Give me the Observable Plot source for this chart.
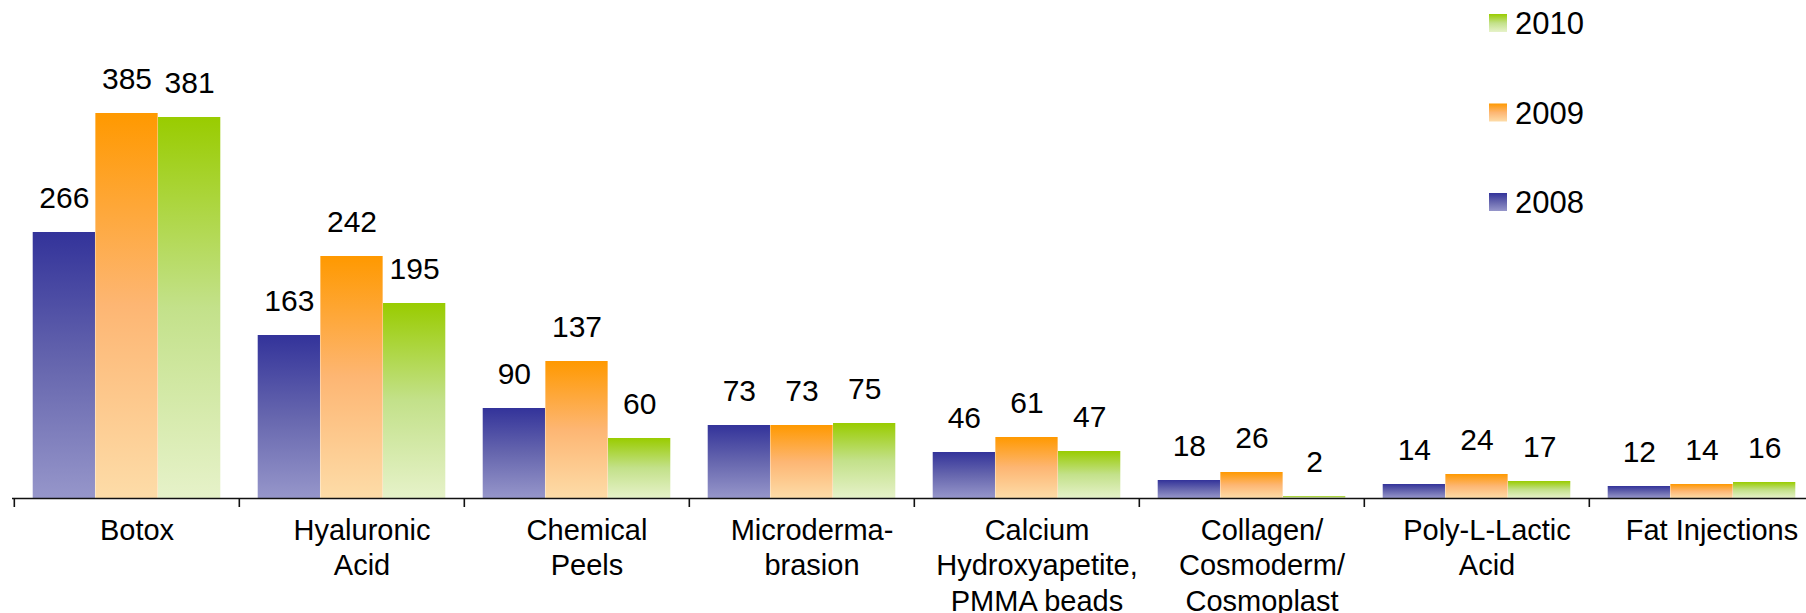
<!DOCTYPE html>
<html><head><meta charset="utf-8">
<script src="https://cdn.jsdelivr.net/npm/d3@7"></script>
<script src="https://cdn.jsdelivr.net/npm/@observablehq/plot@0.6"></script>
<style>
body{margin:0;background:#fff;overflow:hidden}
#wrap{position:relative;width:1806px;height:613px;font-family:"Liberation Sans",Arial,sans-serif}
#legend{position:absolute;left:1480px;top:0}
</style></head><body><div id="wrap"></div>
<script>
const categories = ["Botox","Hyaluronic Acid","Chemical Peels","Microdermabrasion","Calcium Hydroxyapetite, PMMA beads","Collagen/Cosmoderm/Cosmoplast","Poly-L-Lactic Acid","Fat Injections"];
const categoryLabels = ["Botox","Hyaluronic\nAcid","Chemical\nPeels","Microderma-\nbrasion","Calcium\nHydroxyapetite,\nPMMA beads","Collagen/\nCosmoderm/\nCosmoplast","Poly-L-Lactic\nAcid","Fat Injections"];
const years = ["2008","2009","2010"];
const values2008 = [266,163,90,73,46,18,14,12];
const values2009 = [385,242,137,73,61,26,24,14];
const values2010 = [381,195,60,75,47,2,17,16];
const gradientStops = {
  "2008": ["#33339a", "#6666ae", "#9696ca"],
  "2009": ["#ff9900", "#fdb673", "#fddca8"],
  "2010": ["#99cc00", "#c3e18a", "#e6f2c9"]
};

const seriesValues = {"2008": values2008, "2009": values2009, "2010": values2010};
const rows = years.flatMap(year => categories.map((category, i) => ({category, year, value: seriesValues[year][i], label: categoryLabels[i]})));

const W = 1806, H = 613;
const xRange = [12, 1815];
const step = (xRange[1] - xRange[0]) / categories.length;
const barW = step * 0.278;
const side = (step - 3 * barW) / 2;
const font = '"Liberation Sans", Arial, sans-serif';

const marks = [];
years.forEach((year, k) => {
  const data = rows.filter(d => d.year === year);
  marks.push(Plot.barY(data, {
    x: "category", y: "value",
    insetLeft: side + k * barW, insetRight: side + (2 - k) * barW,
    fill: `url(#grad${year})`
  }));
  marks.push(Plot.text(data, {
    x: "category", y: "value", text: d => String(d.value),
    dx: (k - 1) * barW, dy: -25, lineAnchor: "bottom",
    fontSize: 30, fill: "#000"
  }));
});
marks.push(Plot.ruleY([0], {stroke: "#111", strokeWidth: 1.6}));
marks.push(Plot.ruleX(categories, {x: d => d, y1: 0, y2: 0, dx: -step / 2, insetBottom: -9, stroke: "#111", strokeWidth: 1.6}));
marks.push(Plot.text(categories, {
  x: d => d, y: 0, text: (d, i) => categoryLabels[i],
  lineAnchor: "top", lineHeight: 1.24, dy: 15.5, dx: 10,
  fontSize: 29, fill: "#000"
}));

const plot = Plot.plot({
  width: W, height: H,
  marginLeft: 12, marginRight: 0, marginTop: 18, marginBottom: 115,
  style: {fontFamily: font, background: "#fff", overflow: "visible"},
  x: {type: "band", domain: categories, range: xRange, padding: 0, axis: null},
  y: {domain: [0, 480], axis: null},
  marks
});

// gradient definitions
const ns = "http://www.w3.org/2000/svg";
const defs = document.createElementNS(ns, "defs");
years.forEach(year => {
  const g = document.createElementNS(ns, "linearGradient");
  g.setAttribute("id", `grad${year}`);
  g.setAttribute("x1", "0"); g.setAttribute("y1", "0");
  g.setAttribute("x2", "0"); g.setAttribute("y2", "1");
  gradientStops[year].forEach((c, j, arr) => {
    const s = document.createElementNS(ns, "stop");
    s.setAttribute("offset", j / (arr.length - 1));
    s.setAttribute("stop-color", c);
    g.appendChild(s);
  });
  defs.appendChild(g);
});
plot.insertBefore(defs, plot.firstChild);

const wrap = document.getElementById("wrap");
wrap.appendChild(plot);

// legend (top-right, newest year first)
const legend = d3.select(wrap).append("svg").attr("id", "legend").attr("width", 200).attr("height", 230);
const legendYears = years.slice().reverse();
legendYears.forEach((year, j) => {
  const baseline = 34 + j * 89.5;
  legend.append("rect").attr("x", 9).attr("y", baseline - 20).attr("width", 18).attr("height", 18).attr("fill", `url(#grad${year})`);
  legend.append("text").attr("x", 35).attr("y", baseline).attr("font-size", 31).attr("font-family", font).attr("fill", "#000").text(year);
});
</script></body></html>
